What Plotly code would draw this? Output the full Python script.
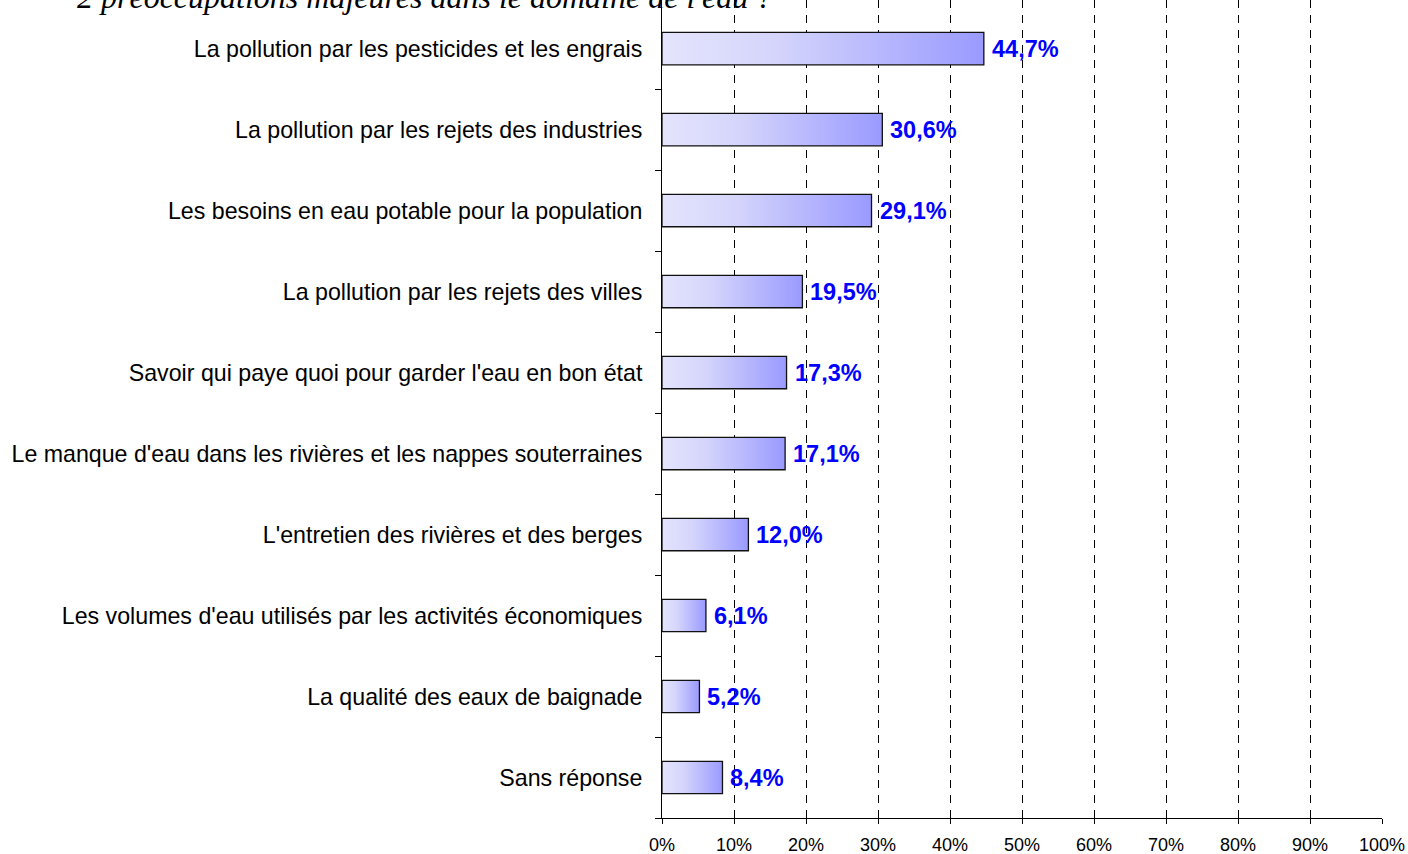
import plotly.graph_objects as go

categories = [
    "La pollution par les pesticides et les engrais",
    "La pollution par les rejets des industries",
    "Les besoins en eau potable pour la population",
    "La pollution par les rejets des villes",
    "Savoir qui paye quoi pour garder l'eau en bon état",
    "Le manque d'eau dans les rivières et les nappes souterraines",
    "L'entretien des rivières et des berges",
    "Les volumes d'eau utilisés par les activités économiques",
    "La qualité des eaux de baignade",
    "Sans réponse",
]
values = [44.7, 30.6, 29.1, 19.5, 17.3, 17.1, 12.0, 6.1, 5.2, 8.4]
value_labels = ["44,7%", "30,6%", "29,1%", "19,5%", "17,3%", "17,1%", "12,0%", "6,1%", "5,2%", "8,4%"]
x_ticks = [0, 10, 20, 30, 40, 50, 60, 70, 80, 90, 100]
x_ticklabels = ["0%", "10%", "20%", "30%", "40%", "50%", "60%", "70%", "80%", "90%", "100%"]
title_text = "2 préoccupations majeures dans le domaine de l'eau ?"

n = len(categories)
pos = [n - 1 - i for i in range(n)]
half = 0.2

fig = go.Figure()
for v, p in zip(values, pos):
    fig.add_trace(go.Scatter(
        x=[0, v, v, 0, 0],
        y=[p - half, p - half, p + half, p + half, p - half],
        mode="lines",
        fill="toself",
        fillgradient=dict(
            type="horizontal",
            colorscale=[[0, "#e4e4fd"], [0.35, "#d5d5fc"], [1, "#9a9aff"]],
        ),
        line=dict(color="#111111", width=1.3),
        hoverinfo="skip",
        showlegend=False,
    ))

for v, p, t in zip(values, pos, value_labels):
    fig.add_annotation(
        x=v, y=p, xref="x", yref="y", text=t, showarrow=False,
        xanchor="left", yanchor="middle", xshift=6,
        font=dict(family="Liberation Sans, Arial, sans-serif", size=23.5, color="#0000ff", weight="bold"),
    )

fig.add_annotation(
    x=-0.815, y=0.979, xref="paper", yref="paper", text=title_text, showarrow=False,
    xanchor="left", yanchor="bottom",
    font=dict(family="Liberation Serif, Times New Roman, serif", size=32, color="black", style="italic"),
)

fig.update_layout(
    width=1408, height=854,
    margin=dict(l=662, r=26, t=0, b=36, autoexpand=False),
    paper_bgcolor="white", plot_bgcolor="white",
    xaxis=dict(
        range=[0, 100], tickvals=x_ticks, ticktext=x_ticklabels,
        showgrid=True, gridcolor="black", gridwidth=1, griddash="8px,7px",
        showline=True, linecolor="black", linewidth=1,
        ticks="outside", ticklen=5, tickcolor="black", ticklabelstandoff=5,
        tickfont=dict(family="Liberation Sans, Arial, sans-serif", size=18, color="black"),
        zeroline=False, fixedrange=True, automargin=False,
    ),
    yaxis=dict(
        range=[-0.5, 9.6], tickvals=pos, ticktext=categories,
        showgrid=False, zeroline=False,
        showline=True, linecolor="black", linewidth=1,
        ticks="", ticklabelstandoff=14,
        tickfont=dict(family="Liberation Sans, Arial, sans-serif", size=23.2, color="black"),
        minor=dict(tickvals=[p - 0.5 for p in range(n)], ticks="outside", ticklen=6, tickcolor="black", showgrid=False),
        fixedrange=True, automargin=False,
    ),
)

fig.write_html("out.html", config={"displayModeBar": False},
               post_script="document.body.style.margin='0';")
